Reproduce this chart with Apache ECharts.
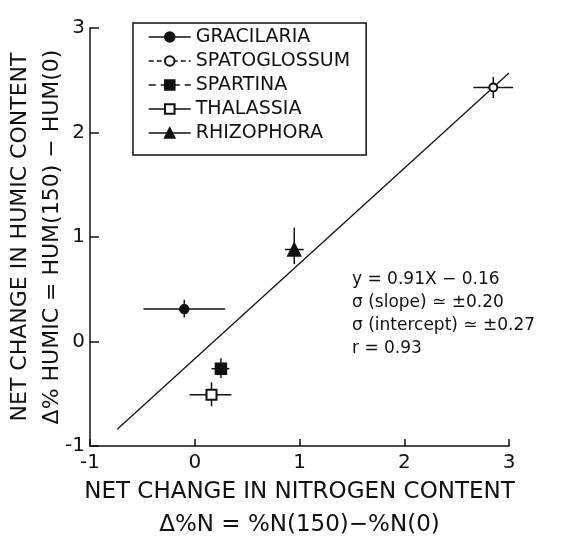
<!DOCTYPE html>
<html>
<head>
<meta charset="utf-8">
<script src="https://cdn.jsdelivr.net/npm/echarts@6/dist/echarts.min.js"></script>
<style>
html, body { margin: 0; padding: 0; background: #fff; }
#chart { width: 564px; height: 539px; }
</style>
</head>
<body>
<div id="chart"></div>
<script>
// Net change in humic vs nitrogen content
var species = ['GRACILARIA', 'SPATOGLOSSUM', 'SPARTINA', 'THALASSIA', 'RHIZOPHORA'];
var nitrogen = [-0.10, 2.85, 0.25, 0.16, 0.95];
var humic = [0.31, 2.43, -0.26, -0.51, 0.88];
var nitrogenLow = [-0.49, 2.66, 0.16, -0.05, 0.86];
var nitrogenHigh = [0.29, 3.04, 0.33, 0.35, 1.04];
var humicLow = [0.23, 2.33, -0.35, -0.62, 0.74];
var humicHigh = [0.40, 2.53, -0.16, -0.39, 1.09];
var fitX = [-0.74, 3.0];
var fitY = [-0.84, 2.57];
var xTicks = [-1, 0, 1, 2, 3];
var yTicks = [-1, 0, 1, 2, 3];
var statsText = ['y = 0.91X \u2212 0.16', '\u03c3 (slope) \u2243 \u00b10.20', '\u03c3 (intercept) \u2243 \u00b10.27', 'r = 0.93'];

var symbols = ['circle', 'emptyCircle', 'rect', 'emptyRect', 'triangle'];
var symbolSizes = [9, 8, 11, 10, 13];
var dashes = ['solid', [5, 3], [7, 5], 'solid', 'solid'];
var ink = '#111';
var font = 'DejaVu Sans';

var chart = echarts.init(document.getElementById('chart'));

function renderErrorBar(params, api) {
    var c = api.coord([api.value(0), api.value(1)]);
    var left = api.coord([api.value(2), api.value(1)]);
    var right = api.coord([api.value(3), api.value(1)]);
    var low = api.coord([api.value(0), api.value(4)]);
    var high = api.coord([api.value(0), api.value(5)]);
    var style = { stroke: ink, lineWidth: 1.5 };
    return {
        type: 'group',
        children: [
            { type: 'line', shape: { x1: left[0], y1: c[1], x2: right[0], y2: c[1] }, style: style },
            { type: 'line', shape: { x1: c[0], y1: low[1], x2: c[0], y2: high[1] }, style: style }
        ]
    };
}

var errorData = species.map(function (s, i) {
    return [nitrogen[i], humic[i], nitrogenLow[i], nitrogenHigh[i], humicLow[i], humicHigh[i]];
});

var series = [
    {
        type: 'custom',
        renderItem: renderErrorBar,
        data: errorData,
        encode: { x: [0, 2, 3], y: [1, 4, 5] },
        silent: true,
        z: 2
    },
    {
        type: 'line',
        data: fitX.map(function (x, i) { return [x, fitY[i]]; }),
        symbol: 'none',
        lineStyle: { color: ink, width: 1.3 },
        silent: true,
        z: 3
    }
];

species.forEach(function (name, i) {
    series.push({
        name: name,
        type: 'line',
        data: [[nitrogen[i], humic[i]]],
        symbol: symbols[i],
        symbolSize: symbolSizes[i],
        itemStyle: { color: ink, borderColor: ink, borderWidth: 1.5 },
        lineStyle: { color: ink, width: 1.5, type: dashes[i] },
        z: 5
    });
});

var option = {
    animation: false,
    backgroundColor: '#fff',
    grid: {
        left: 90,
        right: 55,
        top: 28,
        bottom: 93,
        outerBoundsMode: 'none'
    },
    legend: {
        data: species,
        orient: 'vertical',
        left: 133,
        top: 23,
        padding: [4, 16, 12, 15],
        itemGap: 4,
        itemWidth: 42,
        itemHeight: 12,
        borderColor: ink,
        borderWidth: 1.5,
        selectedMode: false,
        textStyle: { color: ink, fontFamily: font, fontSize: 19, lineHeight: 20 },
        lineStyle: { width: 1.5 }
    },
    xAxis: {
        type: 'value',
        min: xTicks[0],
        max: xTicks[xTicks.length - 1],
        interval: 1,
        name: 'NET CHANGE IN NITROGEN CONTENT\n\u0394%N = %N(150)\u2212%N(0)',
        nameLocation: 'middle',
        nameGap: 30,
        nameMoveOverlap: false,
        nameTextStyle: { color: ink, fontFamily: font, fontSize: 23, lineHeight: 33 },
        axisLine: { show: true, onZero: false, lineStyle: { color: ink, width: 1.5 } },
        axisTick: { show: true, inside: true, length: 7, lineStyle: { color: ink, width: 1.5 } },
        axisLabel: { color: ink, fontFamily: font, fontSize: 20, margin: 7 },
        splitLine: { show: false }
    },
    yAxis: {
        type: 'value',
        min: yTicks[0],
        max: yTicks[yTicks.length - 1],
        interval: 1,
        name: 'NET CHANGE IN HUMIC CONTENT\n\u0394% HUMIC = HUM(150) \u2212 HUM(0)',
        nameLocation: 'middle',
        nameRotate: 90,
        nameGap: 22,
        nameMoveOverlap: false,
        nameTextStyle: { color: ink, fontFamily: font, fontSize: 22, lineHeight: 32 },
        axisLine: { show: true, onZero: false, lineStyle: { color: ink, width: 1.5 } },
        axisTick: { show: true, inside: true, length: 9, lineStyle: { color: ink, width: 1.5 } },
        axisLabel: { color: ink, fontFamily: font, fontSize: 20, margin: 5 },
        splitLine: { show: false }
    },
    graphic: [
        {
            type: 'text',
            left: 352,
            top: 268,
            style: {
                text: statsText.join('\n'),
                fill: ink,
                font: '17px "' + font + '"',
                lineHeight: 23
            }
        }
    ],
    series: series
};

chart.setOption(option);
</script>
</body>
</html>
